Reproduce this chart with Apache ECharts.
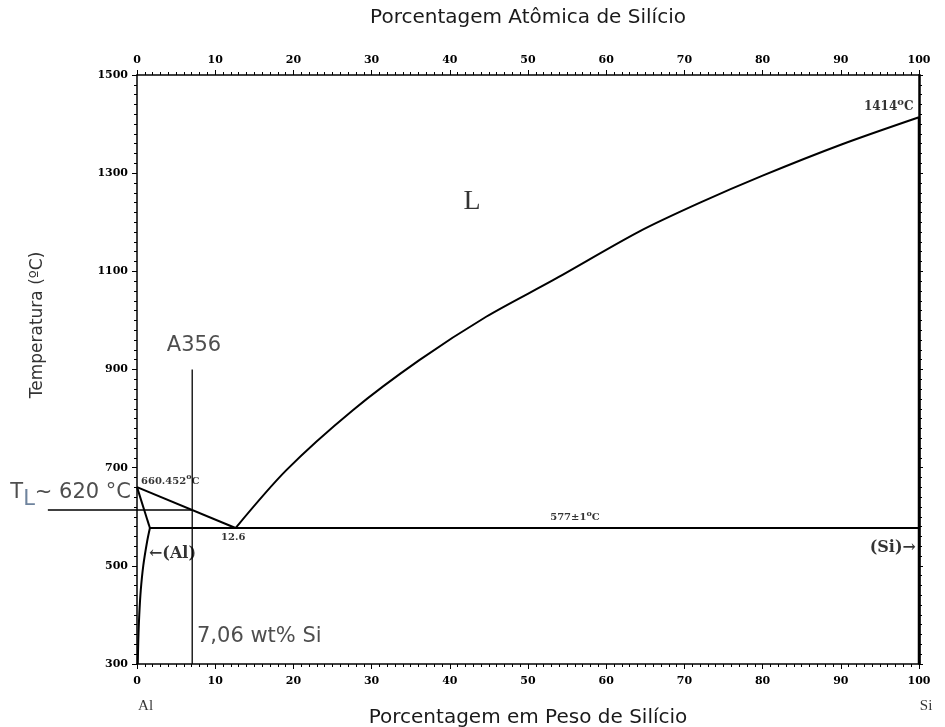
<!DOCTYPE html>
<html>
<head>
<meta charset="utf-8">
<script src="https://cdn.jsdelivr.net/npm/echarts@6/dist/echarts.min.js"></script>
<style>html,body{margin:0;padding:0;background:#fff}#c{width:945px;height:727px}</style>
</head>
<body>
<div id="c"></div>
<script>
// ---- data (wt% Si, temperature °C) ----
const xTicks = [0,10,20,30,40,50,60,70,80,90,100];
const yTicks = [300,500,700,900,1100,1300,1500];
const liquidusHypo = [[0,660.452],[12.6,577]];
const liquidusHyper = [[12.6,577],[19.1,695],[27.6,817],[36.1,919],[44.7,1008],[53.2,1082],[64.2,1181],[72,1240],[80,1295],[90,1358],[100,1414]];
const solidusAl = [[0,660.452],[1.65,577]];
const solvusAl = [[1.65,577],[1.3,550],[0.8,500],[0.48,450],[0.29,400],[0.17,350],[0.1,300]];
const eutectic = [[1.65,577],[100,577]];
const siLine = [[100,300],[100,1414]];
const a356Line = [[7.06,900],[7.06,300]];
const tlLine = [[-11.4,614],[7.06,614]];

// annotations: [x, y, text, align]
const annotations = [
  [0.51, 672, '{a|660.452}{s|o}{a|C}', 'left'],
  [12.3, 558, '{a|12.6}', 'center'],
  [56.0, 598, '{a|577±1}{s|o}{a|C}', 'center'],
  [99.3, 1436, '{a2|1414}{s2|o}{a2|C}', 'right'],
  [42.84, 1243, '{big|L}', 'center'],
  [1.53, 524, '{b|←(Al)}', 'left'],
  [99.6, 537, '{b|(Si)→}', 'right'],
  [7.29, 948, '{sans|A356}', 'center'],
  [7.67, 355, '{sans|7,06 wt% Si}', 'left'],
  [-16.2, 649, '{sans|T}{sub|L}{sans|~ 620 °C}', 'left'],
  [1.1, 214, '{ser|Al}', 'center'],
  [100.9, 214, '{ser|Si}', 'center']
];

const rich = {
  a: {fontFamily: 'DejaVu Serif', fontWeight: 'bold', fontSize: 10, color: '#000'},
  s: {fontFamily: 'DejaVu Serif', fontWeight: 'bold', fontSize: 8, color: '#000', padding: [0,0,8,0]},
  a2: {fontFamily: 'DejaVu Serif', fontWeight: 'bold', fontSize: 12, color: '#000'},
  s2: {fontFamily: 'DejaVu Serif', fontWeight: 'bold', fontSize: 10, color: '#000', padding: [0,0,9,0]},
  big: {fontFamily: 'Liberation Serif', fontSize: 28, color: '#000'},
  b: {fontFamily: 'DejaVu Serif', fontWeight: 'bold', fontSize: 16, color: '#000'},
  sans: {fontFamily: 'DejaVu Sans', fontSize: 21, color: '#222'},
  sub: {fontFamily: 'DejaVu Sans', fontSize: 21, color: '#4a6485', padding: [14,0,0,0]},
  ser: {fontFamily: 'Liberation Serif', fontSize: 15, color: '#000'}
};

const lineSeries = (data, w) => ({
  type: 'line', data: data, showSymbol: false, symbol: 'none',
  lineStyle: {color: '#000', width: w}, silent: true, clip: false, z: 3
});

const tickLabel = {fontFamily: 'DejaVu Serif', fontWeight: 'bold', fontSize: 11, color: '#000', formatter: v => String(v)};
const nameStyle = {fontFamily: 'DejaVu Sans', fontSize: 20, color: '#1a1a1a'};
const axisCommon = {
  type: 'value', min: 0, max: 100, interval: 10,
  axisLine: {show: true, onZero: false, lineStyle: {color: '#000', width: 1.5}},
  axisTick: {show: true, inside: false, length: 5, lineStyle: {color: '#000'}},
  minorTick: {show: true, splitNumber: 10, length: 3, lineStyle: {color: '#000'}},
  splitLine: {show: false}
};

const chart = echarts.init(document.getElementById('c'), null, {renderer: 'canvas'});
chart.setOption({
  animation: false,
  backgroundColor: '#fff',
  grid: {left: 137, right: 26, top: 75, bottom: 63, containLabel: false, outerBoundsMode: 'none'},
  xAxis: [
    Object.assign({}, axisCommon, {
      position: 'bottom',
      name: 'Porcentagem em Peso de Silício', nameLocation: 'middle', nameGap: 44,
      nameTextStyle: nameStyle,
      axisLabel: Object.assign({margin: 12}, tickLabel)
    }),
    Object.assign({}, axisCommon, {
      position: 'top',
      name: 'Porcentagem Atômica de Silício', nameLocation: 'middle', nameGap: 47,
      nameTextStyle: nameStyle,
      axisLabel: Object.assign({margin: 9}, tickLabel)
    })
  ],
  yAxis: [
    {
      type: 'value', min: 300, max: 1500, interval: 200, position: 'left',
      axisLine: {show: true, onZero: false, lineStyle: {color: '#000', width: 1.5}},
      axisTick: {show: true, length: 5, lineStyle: {color: '#000'}},
      minorTick: {show: true, splitNumber: 10, length: 3, lineStyle: {color: '#000'}},
      splitLine: {show: false},
      axisLabel: Object.assign({margin: 9}, tickLabel)
    },
    {
      type: 'value', min: 300, max: 1500, interval: 200, position: 'right',
      axisLine: {show: true, onZero: false, lineStyle: {color: '#000', width: 2.5}},
      axisTick: {show: true, length: 4, lineStyle: {color: '#000'}},
      minorTick: {show: true, splitNumber: 10, length: 3, lineStyle: {color: '#000'}},
      splitLine: {show: false},
      axisLabel: {show: false}
    }
  ],
  series: [
    lineSeries(liquidusHypo, 2),
    Object.assign(lineSeries(liquidusHyper, 2), {smooth: 0.3}),
    lineSeries(solidusAl, 2),
    Object.assign(lineSeries(solvusAl, 2), {smooth: 0.3}),
    lineSeries(eutectic, 2),
    lineSeries(siLine, 2.5),
    lineSeries(a356Line, 1.3),
    {
      type: 'custom', silent: true, clip: false, z: 3,
      data: [0],
      renderItem: function (params, api) {
        const pts = tlLine.map(p => api.coord(p));
        return {type: 'polyline', shape: {points: pts}, style: {stroke: '#000', lineWidth: 1.5, fill: null}};
      }
    },
    {
      type: 'scatter', symbolSize: 0, clip: false, silent: true, z: 5,
      data: annotations.map(a => ({
        value: [a[0], a[1]],
        label: {
          show: true, position: 'inside', align: a[3], verticalAlign: 'middle',
          formatter: a[2], rich: rich
        }
      }))
    }
  ],
  graphic: [
    {
      type: 'text', x: 38, y: 325, rotation: Math.PI / 2,
      style: {text: 'Temperatura (ºC)', fontFamily: 'DejaVu Sans', fontSize: 17, fill: '#333',
        align: 'center', verticalAlign: 'middle'}
    }
  ]
});
</script>
</body>
</html>
